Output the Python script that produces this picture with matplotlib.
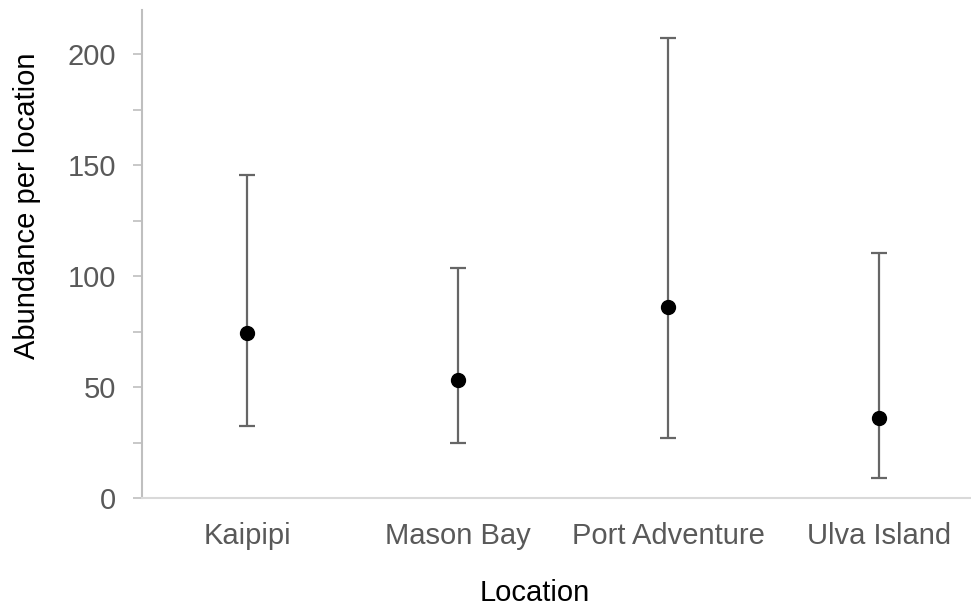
import numpy as np
import matplotlib.pyplot as plt
from matplotlib.ticker import MultipleLocator

# Data
locations = ['Kaipipi', 'Mason Bay', 'Port Adventure', 'Ulva Island']
abundance = [74.7, 53.4, 86.0, 36.0]
upper = [145.8, 103.8, 207.3, 110.4]
lower = [32.7, 24.8, 27.3, 9.1]

plt.rcParams['font.family'] = ['Liberation Sans', 'DejaVu Sans']

fig = plt.figure(figsize=(9.71, 6.08), dpi=100)
ax = fig.add_axes([0.1462, 0.1804, 0.867, 0.8031])

x = np.arange(len(locations))
y = np.array(abundance)
yerr = [y - np.array(lower), np.array(upper) - y]

ax.errorbar(x, y, yerr=yerr, fmt='o', color='black', markersize=10,
            ecolor='#666666', elinewidth=1.6, capsize=6, capthick=1.6)

ax.set_xlim(-0.5, 3.5)
ax.set_ylim(0, 220)
ax.yaxis.set_major_locator(MultipleLocator(50))
ax.yaxis.set_minor_locator(MultipleLocator(25))
ax.set_yticks([0, 50, 100, 150, 200])
ax.set_xticks(x)
ax.set_xticklabels(locations)

for s in ['top', 'right']:
    ax.spines[s].set_visible(False)
ax.spines['left'].set_color('#bfbfbf')
ax.spines['left'].set_linewidth(1.5)
ax.spines['bottom'].set_color('#d9d9d9')
ax.spines['bottom'].set_linewidth(1.5)

ax.tick_params(axis='y', which='both', direction='out', length=6.5,
               width=1.2, color='#bfbfbf', labelsize=21, labelcolor='#595959', pad=12)
ax.tick_params(axis='x', length=0, labelsize=21, labelcolor='#595959', pad=17)

ax.set_ylabel('Abundance per location', fontsize=21, color='black')
ax.yaxis.set_label_coords(-0.1366, 0.60)
ax.set_xlabel('Location', fontsize=21, color='black')
ax.xaxis.set_label_coords(0.466, -0.194)
ax.xaxis.label.set_va('center')
ax.yaxis.label.set_va('center')

plt.savefig('out.png', dpi=100)
